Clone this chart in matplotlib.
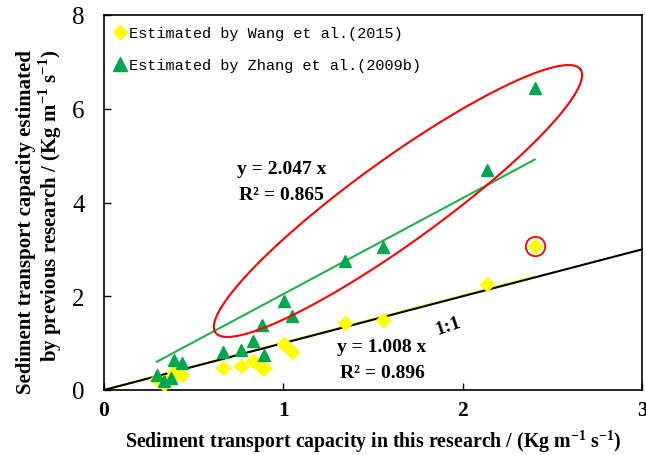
import numpy as np
import matplotlib
matplotlib.use("Agg")
import matplotlib.pyplot as plt
from matplotlib.lines import Line2D

# Data
x_obs = [0.294, 0.335, 0.373, 0.391, 0.434, 0.665, 0.765, 0.831, 0.881, 0.890,
         1.006, 1.046, 1.346, 1.555, 2.134, 2.402]
y_zhang = [0.32, 0.20, 0.26, 0.63, 0.58, 0.82, 0.86, 1.05, 1.38, 0.75,
           1.90, 1.58, 2.75, 3.05, 4.69, 6.45]
y_wang = [0.235, 0.13, 0.26, 0.38, 0.32, 0.47, 0.52, 0.61, 0.47, 0.47,
          0.98, 0.81, 1.43, 1.50, 2.27, 3.07]
slope_wang = 1.008
slope_zhang = 2.047
xticks = [0, 1, 2, 3]
yticks = [0, 2, 4, 6, 8]

W, H = 646, 456
fig = plt.figure(figsize=(W / 100, H / 100), dpi=100)
L, R, T, B = 104, 642, 16, 391
ax = fig.add_axes([L / W, 1 - B / H, (R - L) / W, (B - T) / H])
ax.set_xlim(0, 3)
ax.set_ylim(0, 8)

yellow = '#FFFF00'
green = '#00A650'

# fit lines
xw = np.array([0, max(x_obs)])
ax.plot(xw, slope_wang * xw, color=yellow, lw=1.6, zorder=2)
ax.plot([0, 3], [0, 3], color='black', lw=1.5, zorder=2.5)
xz = np.array([min(x_obs), max(x_obs)])
ax.plot(xz, slope_zhang * xz, color='#22B04B', lw=1.5, zorder=2)

ax.plot(x_obs, y_wang, 'D', color=yellow, ms=7, mec=yellow, zorder=3, ls='none')
ax.plot(x_obs, y_zhang, '^', color=green, ms=9, mec=green, zorder=4, ls='none')

# red ellipse (shape defined in screen-pixel scale, centred in data coords)
sx = (R - L) / 3.0
sy = (B - T) / 8.0
cx, cy = 1.639, 4.032
a, b = 225, 42
ang = np.deg2rad(35.8)
t = np.linspace(0, 2 * np.pi, 400)
ex = cx + (a * np.cos(t) * np.cos(ang) - b * np.sin(t) * np.sin(ang)) / sx
ey = cy + (a * np.cos(t) * np.sin(ang) + b * np.sin(t) * np.cos(ang)) / sy
ax.plot(ex, ey, color='red', lw=1.5, zorder=5)
# small circle around the outlier
ax.plot([x_obs[-1]], [y_wang[-1]], 'o', mfc='none', mec='red', ms=14, mew=1.3, zorder=5)

serif = 'Liberation Serif'
kw = dict(fontfamily=serif, fontweight='bold', fontsize=14, ha='center', va='center')
ax.text(0.99, 4.72, 'y = 2.047 x', **kw)
ax.text(0.99, 4.18, 'R² = 0.865', **kw)
ax.text(1.55, 0.92, 'y = 1.008 x', **kw)
ax.text(1.55, 0.38, 'R² = 0.896', **kw)
ax.text(1.92, 1.37, '1:1', rotation=19, **kw)

ax.set_xticks(xticks)
ax.set_yticks(yticks)
ax.tick_params(direction='in', length=5, width=1)
for lab in ax.get_xticklabels():
    lab.set_fontfamily(serif)
    lab.set_fontweight('bold')
    lab.set_fontsize(15.5)
for lab in ax.get_yticklabels():
    lab.set_fontfamily(serif)
    lab.set_fontsize(18)
ax.tick_params(axis='x', pad=7)
ax.tick_params(axis='y', pad=14)
for s in ax.spines.values():
    s.set_linewidth(1.2)

ax.set_xlabel('Sediment transport capacity in this research / (Kg m$^{\\mathregular{-1}}$ s$^{\\mathregular{-1}}$)',
              fontfamily=serif, fontweight='bold', fontsize=14.3, labelpad=5)
fig.text(40 / W, 1 - 222 / H,
         'Sediment transport capacity estimated\nby previous research / (Kg m$^{\\mathregular{-1}}$ s$^{\\mathregular{-1}}$)',
         fontfamily=serif, fontweight='bold', fontsize=15, rotation=90,
         ha='center', va='center', multialignment='right', linespacing=1.05)

handles = [Line2D([], [], marker='D', color=yellow, ms=7, ls='none'),
           Line2D([], [], marker='^', color=green, ms=10, ls='none')]
leg = ax.legend(handles, ['Estimated by Wang et al.(2015)', 'Estimated by Zhang et al.(2009b)'],
                loc='upper left', frameon=False, prop={'family': 'Liberation Mono', 'size': 11},
                handlelength=0.6, handletextpad=0.3, labelspacing=1.15, borderaxespad=0.35,
                bbox_to_anchor=(0.0, 1.0))

fig.savefig('out.png', dpi=100)
